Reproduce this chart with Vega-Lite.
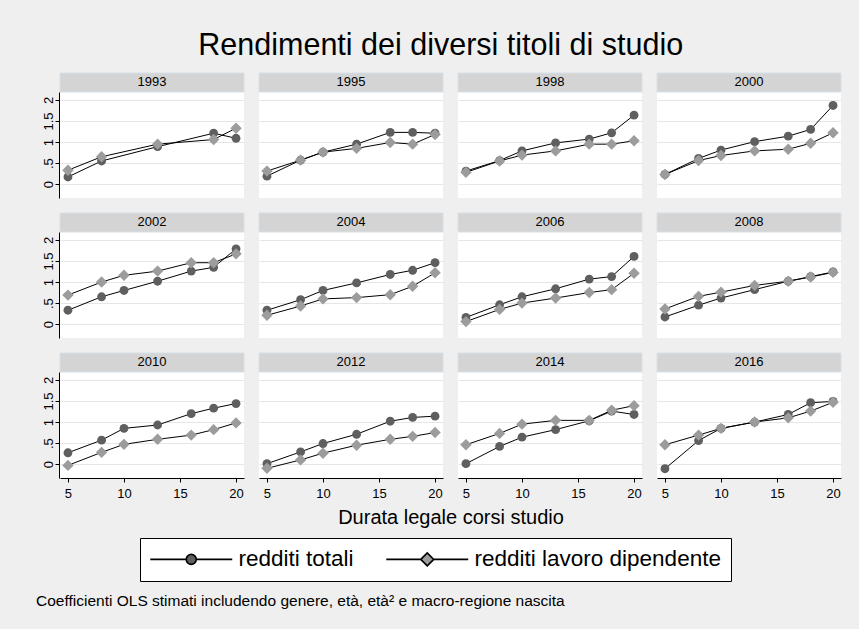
{
  "$schema": "https://vega.github.io/schema/vega-lite/v6.json",
  "background": "#efefef",
  "padding": {"left": 36, "top": 30, "right": 18, "bottom": 24},
  "title": {
    "text": "Coefficienti OLS stimati includendo genere, età, età² e macro-regione nascita",
    "orient": "bottom", "anchor": "start", "frame": "bounds",
    "fontSize": 15.5, "fontWeight": "normal", "color": "black", "offset": 12, "dx": -6
  },
  "config": {
    "font": "Liberation Sans",
    "view": {"stroke": null, "fill": "white"},
    "header": {"labels": false, "labelFontSize": 1, "labelPadding": 0, "labelColor": "transparent", "labelExpr": "''"},
    "legend": {
      "orient": "none", "legendX": 80, "legendY": 446, "direction": "horizontal", "title": null,
      "symbolSize": 144, "symbolOpacity": 1, "symbolStrokeWidth": 1.6, "symbolStrokeColor": "black",
      "symbolOffset": 30, "labelOffset": 36,
      "labelFontSize": 22.5, "labelColor": "black", "labelLimit": 400,
      "columnPadding": 29, "padding": 10, "strokeColor": "black", "fillColor": "white"
    }
  },
  "vconcat": [
    {
      "title": {
        "text": "Rendimenti dei diversi titoli di studio",
        "fontSize": 30.5, "fontWeight": "normal", "color": "black", "anchor": "middle", "offset": 10, "dx": -1
      },
      "data": {
        "values": [
          {"anno": "1993", "serie": "redditi totali", "durata": 5, "coef": 0.17},
          {"anno": "1993", "serie": "redditi totali", "durata": 8, "coef": 0.55},
          {"anno": "1993", "serie": "redditi totali", "durata": 13, "coef": 0.89},
          {"anno": "1993", "serie": "redditi totali", "durata": 18, "coef": 1.21},
          {"anno": "1993", "serie": "redditi totali", "durata": 20, "coef": 1.09},
          {"anno": "1993", "serie": "redditi lavoro dipendente", "durata": 5, "coef": 0.33},
          {"anno": "1993", "serie": "redditi lavoro dipendente", "durata": 8, "coef": 0.65},
          {"anno": "1993", "serie": "redditi lavoro dipendente", "durata": 13, "coef": 0.95},
          {"anno": "1993", "serie": "redditi lavoro dipendente", "durata": 18, "coef": 1.06},
          {"anno": "1993", "serie": "redditi lavoro dipendente", "durata": 20, "coef": 1.33},

          {"anno": "1995", "serie": "redditi totali", "durata": 5, "coef": 0.19},
          {"anno": "1995", "serie": "redditi totali", "durata": 8, "coef": 0.57},
          {"anno": "1995", "serie": "redditi totali", "durata": 10, "coef": 0.76},
          {"anno": "1995", "serie": "redditi totali", "durata": 13, "coef": 0.95},
          {"anno": "1995", "serie": "redditi totali", "durata": 16, "coef": 1.23},
          {"anno": "1995", "serie": "redditi totali", "durata": 18, "coef": 1.23},
          {"anno": "1995", "serie": "redditi totali", "durata": 20, "coef": 1.21},
          {"anno": "1995", "serie": "redditi lavoro dipendente", "durata": 5, "coef": 0.31},
          {"anno": "1995", "serie": "redditi lavoro dipendente", "durata": 8, "coef": 0.57},
          {"anno": "1995", "serie": "redditi lavoro dipendente", "durata": 10, "coef": 0.76},
          {"anno": "1995", "serie": "redditi lavoro dipendente", "durata": 13, "coef": 0.85},
          {"anno": "1995", "serie": "redditi lavoro dipendente", "durata": 16, "coef": 0.99},
          {"anno": "1995", "serie": "redditi lavoro dipendente", "durata": 18, "coef": 0.95},
          {"anno": "1995", "serie": "redditi lavoro dipendente", "durata": 20, "coef": 1.18},

          {"anno": "1998", "serie": "redditi totali", "durata": 5, "coef": 0.31},
          {"anno": "1998", "serie": "redditi totali", "durata": 8, "coef": 0.56},
          {"anno": "1998", "serie": "redditi totali", "durata": 10, "coef": 0.79},
          {"anno": "1998", "serie": "redditi totali", "durata": 13, "coef": 0.98},
          {"anno": "1998", "serie": "redditi totali", "durata": 16, "coef": 1.07},
          {"anno": "1998", "serie": "redditi totali", "durata": 18, "coef": 1.22},
          {"anno": "1998", "serie": "redditi totali", "durata": 20, "coef": 1.64},
          {"anno": "1998", "serie": "redditi lavoro dipendente", "durata": 5, "coef": 0.28},
          {"anno": "1998", "serie": "redditi lavoro dipendente", "durata": 8, "coef": 0.55},
          {"anno": "1998", "serie": "redditi lavoro dipendente", "durata": 10, "coef": 0.69},
          {"anno": "1998", "serie": "redditi lavoro dipendente", "durata": 13, "coef": 0.79},
          {"anno": "1998", "serie": "redditi lavoro dipendente", "durata": 16, "coef": 0.95},
          {"anno": "1998", "serie": "redditi lavoro dipendente", "durata": 18, "coef": 0.95},
          {"anno": "1998", "serie": "redditi lavoro dipendente", "durata": 20, "coef": 1.03},

          {"anno": "2000", "serie": "redditi totali", "durata": 5, "coef": 0.23},
          {"anno": "2000", "serie": "redditi totali", "durata": 8, "coef": 0.61},
          {"anno": "2000", "serie": "redditi totali", "durata": 10, "coef": 0.81},
          {"anno": "2000", "serie": "redditi totali", "durata": 13, "coef": 1.01},
          {"anno": "2000", "serie": "redditi totali", "durata": 16, "coef": 1.14},
          {"anno": "2000", "serie": "redditi totali", "durata": 18, "coef": 1.30},
          {"anno": "2000", "serie": "redditi totali", "durata": 20, "coef": 1.87},
          {"anno": "2000", "serie": "redditi lavoro dipendente", "durata": 5, "coef": 0.23},
          {"anno": "2000", "serie": "redditi lavoro dipendente", "durata": 8, "coef": 0.56},
          {"anno": "2000", "serie": "redditi lavoro dipendente", "durata": 10, "coef": 0.68},
          {"anno": "2000", "serie": "redditi lavoro dipendente", "durata": 13, "coef": 0.79},
          {"anno": "2000", "serie": "redditi lavoro dipendente", "durata": 16, "coef": 0.83},
          {"anno": "2000", "serie": "redditi lavoro dipendente", "durata": 18, "coef": 0.97},
          {"anno": "2000", "serie": "redditi lavoro dipendente", "durata": 20, "coef": 1.22},

          {"anno": "2002", "serie": "redditi totali", "durata": 5, "coef": 0.33},
          {"anno": "2002", "serie": "redditi totali", "durata": 8, "coef": 0.65},
          {"anno": "2002", "serie": "redditi totali", "durata": 10, "coef": 0.80},
          {"anno": "2002", "serie": "redditi totali", "durata": 13, "coef": 1.02},
          {"anno": "2002", "serie": "redditi totali", "durata": 16, "coef": 1.26},
          {"anno": "2002", "serie": "redditi totali", "durata": 18, "coef": 1.35},
          {"anno": "2002", "serie": "redditi totali", "durata": 20, "coef": 1.79},
          {"anno": "2002", "serie": "redditi lavoro dipendente", "durata": 5, "coef": 0.69},
          {"anno": "2002", "serie": "redditi lavoro dipendente", "durata": 8, "coef": 1.00},
          {"anno": "2002", "serie": "redditi lavoro dipendente", "durata": 10, "coef": 1.16},
          {"anno": "2002", "serie": "redditi lavoro dipendente", "durata": 13, "coef": 1.26},
          {"anno": "2002", "serie": "redditi lavoro dipendente", "durata": 16, "coef": 1.46},
          {"anno": "2002", "serie": "redditi lavoro dipendente", "durata": 18, "coef": 1.46},
          {"anno": "2002", "serie": "redditi lavoro dipendente", "durata": 20, "coef": 1.67},

          {"anno": "2004", "serie": "redditi totali", "durata": 5, "coef": 0.33},
          {"anno": "2004", "serie": "redditi totali", "durata": 8, "coef": 0.58},
          {"anno": "2004", "serie": "redditi totali", "durata": 10, "coef": 0.80},
          {"anno": "2004", "serie": "redditi totali", "durata": 13, "coef": 0.98},
          {"anno": "2004", "serie": "redditi totali", "durata": 16, "coef": 1.18},
          {"anno": "2004", "serie": "redditi totali", "durata": 18, "coef": 1.28},
          {"anno": "2004", "serie": "redditi totali", "durata": 20, "coef": 1.46},
          {"anno": "2004", "serie": "redditi lavoro dipendente", "durata": 5, "coef": 0.21},
          {"anno": "2004", "serie": "redditi lavoro dipendente", "durata": 8, "coef": 0.43},
          {"anno": "2004", "serie": "redditi lavoro dipendente", "durata": 10, "coef": 0.60},
          {"anno": "2004", "serie": "redditi lavoro dipendente", "durata": 13, "coef": 0.63},
          {"anno": "2004", "serie": "redditi lavoro dipendente", "durata": 16, "coef": 0.70},
          {"anno": "2004", "serie": "redditi lavoro dipendente", "durata": 18, "coef": 0.90},
          {"anno": "2004", "serie": "redditi lavoro dipendente", "durata": 20, "coef": 1.22},

          {"anno": "2006", "serie": "redditi totali", "durata": 5, "coef": 0.16},
          {"anno": "2006", "serie": "redditi totali", "durata": 8, "coef": 0.46},
          {"anno": "2006", "serie": "redditi totali", "durata": 10, "coef": 0.65},
          {"anno": "2006", "serie": "redditi totali", "durata": 13, "coef": 0.84},
          {"anno": "2006", "serie": "redditi totali", "durata": 16, "coef": 1.07},
          {"anno": "2006", "serie": "redditi totali", "durata": 18, "coef": 1.13},
          {"anno": "2006", "serie": "redditi totali", "durata": 20, "coef": 1.61},
          {"anno": "2006", "serie": "redditi lavoro dipendente", "durata": 5, "coef": 0.06},
          {"anno": "2006", "serie": "redditi lavoro dipendente", "durata": 8, "coef": 0.35},
          {"anno": "2006", "serie": "redditi lavoro dipendente", "durata": 10, "coef": 0.50},
          {"anno": "2006", "serie": "redditi lavoro dipendente", "durata": 13, "coef": 0.62},
          {"anno": "2006", "serie": "redditi lavoro dipendente", "durata": 16, "coef": 0.75},
          {"anno": "2006", "serie": "redditi lavoro dipendente", "durata": 18, "coef": 0.82},
          {"anno": "2006", "serie": "redditi lavoro dipendente", "durata": 20, "coef": 1.21},

          {"anno": "2008", "serie": "redditi totali", "durata": 5, "coef": 0.17},
          {"anno": "2008", "serie": "redditi totali", "durata": 8, "coef": 0.45},
          {"anno": "2008", "serie": "redditi totali", "durata": 10, "coef": 0.62},
          {"anno": "2008", "serie": "redditi totali", "durata": 13, "coef": 0.82},
          {"anno": "2008", "serie": "redditi totali", "durata": 16, "coef": 1.02},
          {"anno": "2008", "serie": "redditi totali", "durata": 18, "coef": 1.13},
          {"anno": "2008", "serie": "redditi totali", "durata": 20, "coef": 1.24},
          {"anno": "2008", "serie": "redditi lavoro dipendente", "durata": 5, "coef": 0.36},
          {"anno": "2008", "serie": "redditi lavoro dipendente", "durata": 8, "coef": 0.66},
          {"anno": "2008", "serie": "redditi lavoro dipendente", "durata": 10, "coef": 0.76},
          {"anno": "2008", "serie": "redditi lavoro dipendente", "durata": 13, "coef": 0.92},
          {"anno": "2008", "serie": "redditi lavoro dipendente", "durata": 16, "coef": 1.02},
          {"anno": "2008", "serie": "redditi lavoro dipendente", "durata": 18, "coef": 1.12},
          {"anno": "2008", "serie": "redditi lavoro dipendente", "durata": 20, "coef": 1.23},

          {"anno": "2010", "serie": "redditi totali", "durata": 5, "coef": 0.27},
          {"anno": "2010", "serie": "redditi totali", "durata": 8, "coef": 0.57},
          {"anno": "2010", "serie": "redditi totali", "durata": 10, "coef": 0.85},
          {"anno": "2010", "serie": "redditi totali", "durata": 13, "coef": 0.93},
          {"anno": "2010", "serie": "redditi totali", "durata": 16, "coef": 1.20},
          {"anno": "2010", "serie": "redditi totali", "durata": 18, "coef": 1.33},
          {"anno": "2010", "serie": "redditi totali", "durata": 20, "coef": 1.44},
          {"anno": "2010", "serie": "redditi lavoro dipendente", "durata": 5, "coef": -0.03},
          {"anno": "2010", "serie": "redditi lavoro dipendente", "durata": 8, "coef": 0.28},
          {"anno": "2010", "serie": "redditi lavoro dipendente", "durata": 10, "coef": 0.47},
          {"anno": "2010", "serie": "redditi lavoro dipendente", "durata": 13, "coef": 0.59},
          {"anno": "2010", "serie": "redditi lavoro dipendente", "durata": 16, "coef": 0.69},
          {"anno": "2010", "serie": "redditi lavoro dipendente", "durata": 18, "coef": 0.82},
          {"anno": "2010", "serie": "redditi lavoro dipendente", "durata": 20, "coef": 0.98},

          {"anno": "2012", "serie": "redditi totali", "durata": 5, "coef": 0.01},
          {"anno": "2012", "serie": "redditi totali", "durata": 8, "coef": 0.29},
          {"anno": "2012", "serie": "redditi totali", "durata": 10, "coef": 0.49},
          {"anno": "2012", "serie": "redditi totali", "durata": 13, "coef": 0.71},
          {"anno": "2012", "serie": "redditi totali", "durata": 16, "coef": 1.02},
          {"anno": "2012", "serie": "redditi totali", "durata": 18, "coef": 1.11},
          {"anno": "2012", "serie": "redditi totali", "durata": 20, "coef": 1.14},
          {"anno": "2012", "serie": "redditi lavoro dipendente", "durata": 5, "coef": -0.10},
          {"anno": "2012", "serie": "redditi lavoro dipendente", "durata": 8, "coef": 0.10},
          {"anno": "2012", "serie": "redditi lavoro dipendente", "durata": 10, "coef": 0.26},
          {"anno": "2012", "serie": "redditi lavoro dipendente", "durata": 13, "coef": 0.45},
          {"anno": "2012", "serie": "redditi lavoro dipendente", "durata": 16, "coef": 0.59},
          {"anno": "2012", "serie": "redditi lavoro dipendente", "durata": 18, "coef": 0.66},
          {"anno": "2012", "serie": "redditi lavoro dipendente", "durata": 20, "coef": 0.75},

          {"anno": "2014", "serie": "redditi totali", "durata": 5, "coef": 0.01},
          {"anno": "2014", "serie": "redditi totali", "durata": 8, "coef": 0.42},
          {"anno": "2014", "serie": "redditi totali", "durata": 10, "coef": 0.64},
          {"anno": "2014", "serie": "redditi totali", "durata": 13, "coef": 0.82},
          {"anno": "2014", "serie": "redditi totali", "durata": 16, "coef": 1.03},
          {"anno": "2014", "serie": "redditi totali", "durata": 18, "coef": 1.26},
          {"anno": "2014", "serie": "redditi totali", "durata": 20, "coef": 1.18},
          {"anno": "2014", "serie": "redditi lavoro dipendente", "durata": 5, "coef": 0.46},
          {"anno": "2014", "serie": "redditi lavoro dipendente", "durata": 8, "coef": 0.73},
          {"anno": "2014", "serie": "redditi lavoro dipendente", "durata": 10, "coef": 0.95},
          {"anno": "2014", "serie": "redditi lavoro dipendente", "durata": 13, "coef": 1.04},
          {"anno": "2014", "serie": "redditi lavoro dipendente", "durata": 16, "coef": 1.04},
          {"anno": "2014", "serie": "redditi lavoro dipendente", "durata": 18, "coef": 1.28},
          {"anno": "2014", "serie": "redditi lavoro dipendente", "durata": 20, "coef": 1.39},

          {"anno": "2016", "serie": "redditi totali", "durata": 5, "coef": -0.11},
          {"anno": "2016", "serie": "redditi totali", "durata": 8, "coef": 0.56},
          {"anno": "2016", "serie": "redditi totali", "durata": 10, "coef": 0.85},
          {"anno": "2016", "serie": "redditi totali", "durata": 13, "coef": 1.00},
          {"anno": "2016", "serie": "redditi totali", "durata": 16, "coef": 1.18},
          {"anno": "2016", "serie": "redditi totali", "durata": 18, "coef": 1.46},
          {"anno": "2016", "serie": "redditi totali", "durata": 20, "coef": 1.49},
          {"anno": "2016", "serie": "redditi lavoro dipendente", "durata": 5, "coef": 0.46},
          {"anno": "2016", "serie": "redditi lavoro dipendente", "durata": 8, "coef": 0.69},
          {"anno": "2016", "serie": "redditi lavoro dipendente", "durata": 10, "coef": 0.85},
          {"anno": "2016", "serie": "redditi lavoro dipendente", "durata": 13, "coef": 1.00},
          {"anno": "2016", "serie": "redditi lavoro dipendente", "durata": 16, "coef": 1.10},
          {"anno": "2016", "serie": "redditi lavoro dipendente", "durata": 18, "coef": 1.26},
          {"anno": "2016", "serie": "redditi lavoro dipendente", "durata": 20, "coef": 1.47}
        ]
      },
      "facet": {
        "field": "anno", "type": "ordinal", "title": "Durata legale corsi studio",
        "header": {
          "labels": false, "labelFontSize": 1, "labelPadding": 0, "labelColor": "transparent", "labelExpr": "''",
          "titleOrient": "bottom", "titleFontSize": 20,
          "titleFontWeight": "normal", "titleColor": "black", "titlePadding": 8
        }
      },
      "columns": 4,
      "spacing": {"row": 13, "column": 13},
      "spec": {
        "width": 184,
        "height": 106,
        "encoding": {
          "x": {"field": "durata", "type": "quantitative",
            "scale": {"domain": [4.29, 20.71], "nice": false, "zero": false},
            "axis": {"values": [5, 10, 15, 20], "title": null, "grid": false, "domainColor": "black",
              "tickColor": "black", "tickSize": 4, "labelFontSize": 13, "labelColor": "black",
              "labelPadding": 5, "labelFlush": false}},
          "y": {"field": "coef", "type": "quantitative",
            "scale": {"domain": [-0.33, 2.19], "nice": false, "zero": false},
            "axis": {"values": [0, 0.5, 1, 1.5, 2], "tickCount": 5, "title": null, "grid": true, "gridColor": "#e6e6e6",
              "domainColor": "black", "tickColor": "black", "tickSize": 4, "labelAngle": -90,
              "labelAlign": "center", "labelBaseline": "bottom", "labelPadding": 0, "labelFontSize": 13,
              "labelColor": "black", "labelOverlap": false,
              "labelExpr": "replace(format(datum.value, '~g'), '0.', '.')"}}
        },
        "layer": [
          {
            "transform": [{"filter": "datum.durata == 20 && datum.serie == 'redditi totali'"}],
            "mark": {"type": "rect", "color": "#d4d4d4", "stroke": "#d6e0e8", "strokeWidth": 1},
            "encoding": {
              "x": {"datum": 4.29, "type": "quantitative"},
              "x2": {"datum": 20.71},
              "y": {"datum": 2.19, "type": "quantitative"},
              "y2": {"datum": 2.642}
            }
          },
          {
            "transform": [{"filter": "datum.durata == 20 && datum.serie == 'redditi totali'"}],
            "mark": {"type": "text", "fontSize": 13, "color": "black", "baseline": "middle"},
            "encoding": {
              "x": {"datum": 12.5, "type": "quantitative"},
              "y": {"datum": 2.416, "type": "quantitative"},
              "text": {"field": "anno"}
            }
          },
          {
            "transform": [{"filter": "datum.serie == 'redditi totali'"}],
            "mark": {"type": "line", "color": "black", "strokeWidth": 1}
          },
          {
            "transform": [{"filter": "datum.serie == 'redditi totali'"}],
            "mark": {"type": "point", "shape": "circle", "filled": true, "size": 78, "color": "#5f5f5f", "opacity": 1}
          },
          {
            "transform": [{"filter": "datum.serie == 'redditi lavoro dipendente'"}],
            "mark": {"type": "line", "color": "black", "strokeWidth": 1}
          },
          {
            "transform": [{"filter": "datum.serie == 'redditi lavoro dipendente'"}],
            "mark": {"type": "point", "shape": "diamond", "filled": true, "size": 130, "color": "#9c9c9c", "opacity": 1}
          },
          {
            "transform": [{"filter": "datum.durata < 0"}],
            "mark": {"type": "point", "filled": true, "opacity": 0, "stroke": "black", "strokeWidth": 1.6},
            "encoding": {
              "shape": {"field": "serie", "type": "nominal",
                "scale": {"domain": ["redditi totali", "redditi lavoro dipendente"],
                  "range": ["M-6.83,0L-0.83,0M0.83,0L6.83,0M-0.83,0A0.83,0.83,0,1,1,0.83,0A0.83,0.83,0,1,1,-0.83,0Z",
                            "M-6.83,0L-1.08,0M1.08,0L6.83,0M-1.08,0L0,-1.08L1.08,0L0,1.08Z"]},
                "legend": {"title": null,
                  "encode": {"symbols": {"update": {"stroke": {"value": "black"}, "strokeWidth": {"value": 1.6}, "strokeOpacity": {"value": 1}}}}}},
              "fill": {"field": "serie", "type": "nominal",
                "scale": {"domain": ["redditi totali", "redditi lavoro dipendente"], "range": ["#5f5f5f", "#9c9c9c"]},
                "legend": {"title": null,
                  "encode": {"symbols": {"update": {"stroke": {"value": "black"}, "strokeWidth": {"value": 1.6}, "strokeOpacity": {"value": 1}}}}}}
            }
          }
        ]
      }
    }
  ]
}
